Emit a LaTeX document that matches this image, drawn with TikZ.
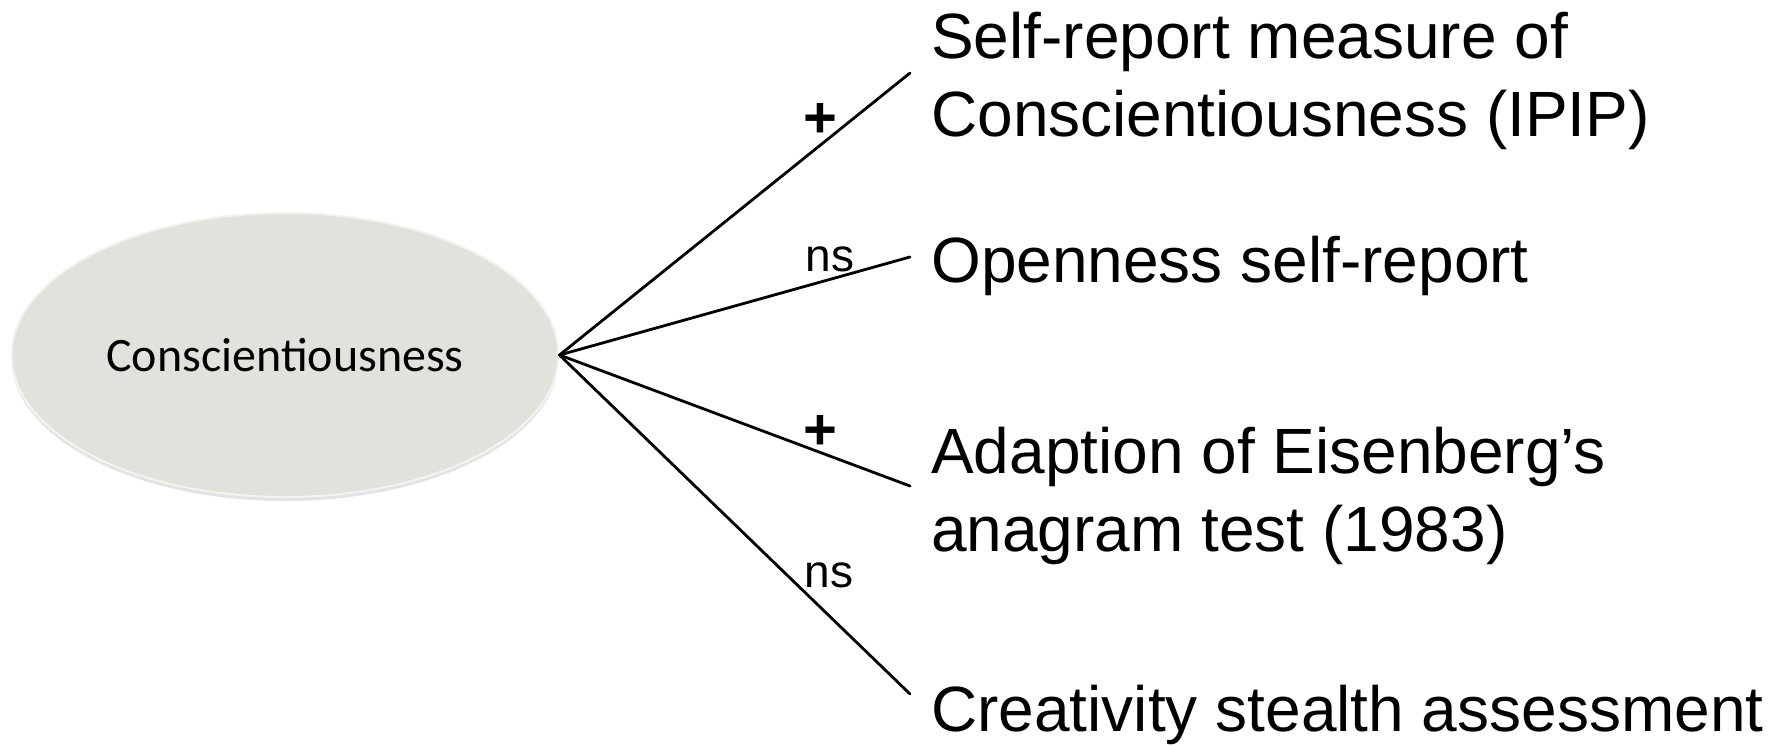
\documentclass[tikz,border=0pt]{standalone}
\usepackage{fontspec}
\setmainfont{Liberation Sans}
\newfontfamily\ovalfont{Carlito}
\usetikzlibrary{shapes.geometric,shadows}

\definecolor{ovalfill}{HTML}{E3E1DB}
\definecolor{ovalrim}{HTML}{F4F3F0}

\tikzset{
  factor/.style={ellipse, inner sep=0pt, minimum width=547pt, minimum height=284pt,
    fill=ovalfill, draw=ovalrim, line width=2pt,
    drop shadow={shadow xshift=0pt, shadow yshift=-4pt, opacity=0.18, fill=black!60}},
  factorlabel/.style={font=\ovalfont\fontsize{48}{56}\selectfont},
  % base west sits on the last line of a wrapped label
  measure/.style={anchor=base west, inner sep=0pt, align=left,
    font=\fontsize{64}{78}\selectfont},
  path/.style={line width=2.8pt, line cap=round},
  sig/.style={inner sep=0pt, font=\bfseries\fontsize{58}{58}\selectfont},
  nsig/.style={inner sep=0pt, font=\fontsize{46}{46}\selectfont},
}

\begin{document}
\begin{tikzpicture}[x=1pt,y=-1pt]
  \useasboundingbox (0,0) rectangle (1785,746);

  % latent factor
  \node[factor] (c) at (285,355) {};
  \node[factorlabel] (clabel) at (c.center) {Conscientiousness};

  % observed measures
  \node[measure] (m1) at (931,137) {Self-report measure of\\Conscientiousness (IPIP)};
  \node[measure] (m2) at (931,282) {Openness self-report};
  \node[measure] (m3) at (931,551) {Adaption of Eisenberg’s\\anagram test (1983)};
  \node[measure] (m4) at (931,731) {Creativity stealth assessment};

  % path ends
  \coordinate (e1) at (910,73);
  \coordinate (e2) at (910,257);
  \coordinate (e3) at (910,486);
  \coordinate (e4) at (910,694);

  \draw[path] (c.east) -- (e1);
  \draw[path] (c.east) -- (e2);
  \draw[path] (c.east) -- (e3);
  \draw[path] (c.east) -- (e4);

  % significance labels
  \node[sig] (s1) at (820,120) {+};
  \node[nsig] (s2) at (830,259) {ns};
  \node[sig] (s3) at (820,432) {+};
  \node[nsig] (s4) at (829,575) {ns};
\end{tikzpicture}
\end{document}
